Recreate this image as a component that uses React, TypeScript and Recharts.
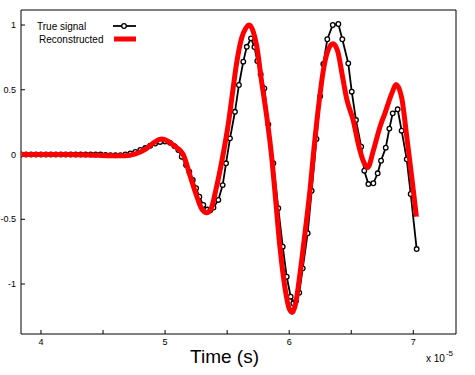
import { ComposedChart, Line, XAxis, YAxis, Label } from 'recharts';

// true signal samples (time in units of 1e-5 s)
const trueTime = [
  3.84, 3.88, 3.92, 3.96, 4.0, 4.04, 4.08, 4.12, 4.16, 4.2,
  4.24, 4.28, 4.32, 4.36, 4.4, 4.44, 4.48, 4.52, 4.56, 4.6,
  4.64, 4.68, 4.72, 4.76, 4.8, 4.84, 4.88, 4.92, 4.96, 5.0,
  5.04, 5.075, 5.107, 5.134, 5.169, 5.195, 5.223, 5.25, 5.276, 5.308,
  5.34, 5.365, 5.39, 5.429, 5.464, 5.491, 5.523, 5.563, 5.595, 5.63,
  5.658, 5.692, 5.72, 5.743, 5.77, 5.8, 5.832, 5.872, 5.912, 5.948,
  5.98, 6.012, 6.033, 6.055, 6.081, 6.109, 6.149, 6.181, 6.22, 6.25,
  6.275, 6.307, 6.351, 6.396, 6.428, 6.476, 6.504, 6.538, 6.58, 6.605,
  6.638, 6.678, 6.713, 6.74, 6.778, 6.807, 6.834, 6.874, 6.906, 6.947,
  6.979, 7.027,
];
const trueValue = [
  0, 0, 0, 0, 0, 0, 0, 0, 0, 0,
  0, 0, 0, 0, 0, 0, 0, -0.003, -0.005, -0.006,
  -0.005, 0, 0.008, 0.02, 0.035, 0.05, 0.068, 0.085, 0.097, 0.1,
  0.09, 0.065, 0.035, -0.017, -0.081, -0.133, -0.197, -0.26, -0.326, -0.39,
  -0.425, -0.43, -0.41, -0.351, -0.236, -0.068, 0.125, 0.33, 0.537, 0.717,
  0.832, 0.897, 0.83, 0.722, 0.62, 0.511, 0.233, -0.068, -0.415, -0.712,
  -0.944, -1.098, -1.149, -1.13, -1.067, -0.879, -0.608, -0.28, 0.12, 0.45,
  0.699, 0.89, 1.0, 1.008, 0.89, 0.704, 0.485, 0.266, 0.06, -0.125,
  -0.228, -0.222, -0.145, -0.048, 0.053, 0.2, 0.318, 0.349, 0.184, -0.037,
  -0.305, -0.73,
];

// reconstructed signal
const reconTime = [
  3.84, 4.0, 4.2, 4.4, 4.55, 4.68, 4.76, 4.84, 4.9, 4.95,
  4.975, 5.02, 5.07, 5.146, 5.2, 5.254, 5.295, 5.335, 5.37, 5.41,
  5.469, 5.51, 5.537, 5.577, 5.617, 5.65, 5.679, 5.71, 5.738, 5.778,
  5.818, 5.859, 5.886, 5.926, 5.966, 6.0, 6.025, 6.05, 6.087, 6.128,
  6.168, 6.2, 6.24, 6.275, 6.315, 6.353, 6.39, 6.43, 6.463, 6.517,
  6.557, 6.597, 6.633, 6.678, 6.732, 6.772, 6.826, 6.861, 6.906, 6.947,
  6.987, 7.025,
];
const reconValue = [
  0, 0, 0, -0.003, -0.01, -0.01, 0.005, 0.04, 0.085, 0.115,
  0.12, 0.105, 0.07, 0.0, -0.16, -0.32, -0.42, -0.45, -0.42, -0.27,
  0.01, 0.24, 0.43, 0.71, 0.9, 0.975, 1.0, 0.95, 0.84, 0.56,
  0.3, -0.02, -0.3, -0.72, -1.03, -1.19, -1.22, -1.16, -0.92, -0.6,
  -0.27, 0.05, 0.4, 0.65, 0.81, 0.855, 0.8, 0.6, 0.43, 0.26,
  0.08, -0.05, -0.1, 0.03, 0.215, 0.32, 0.47, 0.54, 0.44, 0.14,
  -0.17, -0.48,
];

const xTicks = [4, 4.5, 5, 5.5, 6, 6.5, 7];
const xTopTicks = [4.18, 4.53, 4.885, 5.235, 5.59, 5.94, 6.29, 6.64, 6.99];
const yTicks = [-1, -0.5, 0, 0.5, 1];

const trueData = trueTime.map((t, i) => ({ t, v: trueValue[i] }));
const reconData = reconTime.map((t, i) => ({ t, v: reconValue[i] }));

const FONT = '"Liberation Sans", Arial, sans-serif';

function LegendBox() {
  return (
    <svg width={140} height={50} style={{ position: 'absolute', left: 0, top: 0, fontFamily: FONT }}>
      <text x={37} y={30} fontSize={10} fill="#000">True signal</text>
      <line x1={113} y1={26} x2={136} y2={26} stroke="#000" strokeWidth={1.8} />
      <circle cx={124} cy={26} r={2.3} stroke="#000" strokeWidth={1.3} fill="#fff" />
      <text x={39} y={43} fontSize={10} fill="#000">Reconstructed</text>
      <line x1={114} y1={39} x2={136} y2={39} stroke="#ff0000" strokeWidth={5} />
    </svg>
  );
}

function ExpLabel(props: any) {
  const vb = props.viewBox;
  const right = vb.x + vb.width;
  return (
    <text x={right - 30} y={vb.y + 28} fontSize={10} fill="#000" fontFamily={FONT}>
      x 10
      <tspan dx={1} dy={-6} fontSize={8}>-5</tspan>
    </text>
  );
}

function TitleLabel(props: any) {
  const vb = props.viewBox;
  return (
    <text x={vb.x + vb.width / 2 - 14} y={vb.y + 29} fontSize={19} textAnchor="middle" fill="#000" fontFamily={FONT}>
      Time (s)
    </text>
  );
}

export default function App() {
  return (
    <div style={{ position: 'absolute', left: 0, top: 0, width: 475, height: 375, background: '#fff' }}>
      <ComposedChart width={475} height={375} margin={{ top: 0, right: 0, bottom: 0, left: 0 }} style={{ fontFamily: FONT }}>
        <XAxis
          xAxisId="b"
          dataKey="t"
          type="number"
          domain={[3.839, 7.344]}
          allowDataOverflow
          ticks={xTicks}
          tickFormatter={(v: number) => (Number.isInteger(v) ? String(v) : '')}
          height={41}
          tickSize={-4}
          tickMargin={9}
          stroke="#000"
          tick={{ fill: '#000', fontSize: 9 }}
        >
          <Label content={<TitleLabel />} />
          <Label content={<ExpLabel />} />
        </XAxis>
        <XAxis
          xAxisId="top"
          orientation="top"
          dataKey="t"
          type="number"
          domain={[3.839, 7.344]}
          allowDataOverflow
          ticks={xTopTicks}
          height={10}
          tickSize={-3}
          tick={false}
          stroke="#000"
        />
        <YAxis
          yAxisId="l"
          type="number"
          domain={[-1.386, 1.116]}
          allowDataOverflow
          ticks={yTicks}
          width={21}
          tickSize={-4}
          tickMargin={9}
          stroke="#000"
          tick={{ fill: '#000', fontSize: 9 }}
        />
        <YAxis
          yAxisId="r"
          orientation="right"
          type="number"
          domain={[-1.386, 1.116]}
          allowDataOverflow
          ticks={yTicks}
          width={19}
          tickSize={-4}
          tick={false}
          stroke="#000"
        />
        <Line
          xAxisId="b"
          yAxisId="l"
          data={trueData}
          dataKey="v"
          name="True signal"
          type="linear"
          stroke="#000"
          strokeWidth={1.8}
          dot={{ r: 2.3, stroke: '#000', strokeWidth: 1.3, fill: '#fff' }}
          isAnimationActive={false}
        />
        <Line
          xAxisId="b"
          yAxisId="l"
          data={reconData}
          dataKey="v"
          name="Reconstructed"
          type="monotone"
          stroke="#ff0000"
          strokeWidth={5}
          dot={false}
          zIndex={1500}
          isAnimationActive={false}
        />
      </ComposedChart>
      <LegendBox />
    </div>
  );
}
